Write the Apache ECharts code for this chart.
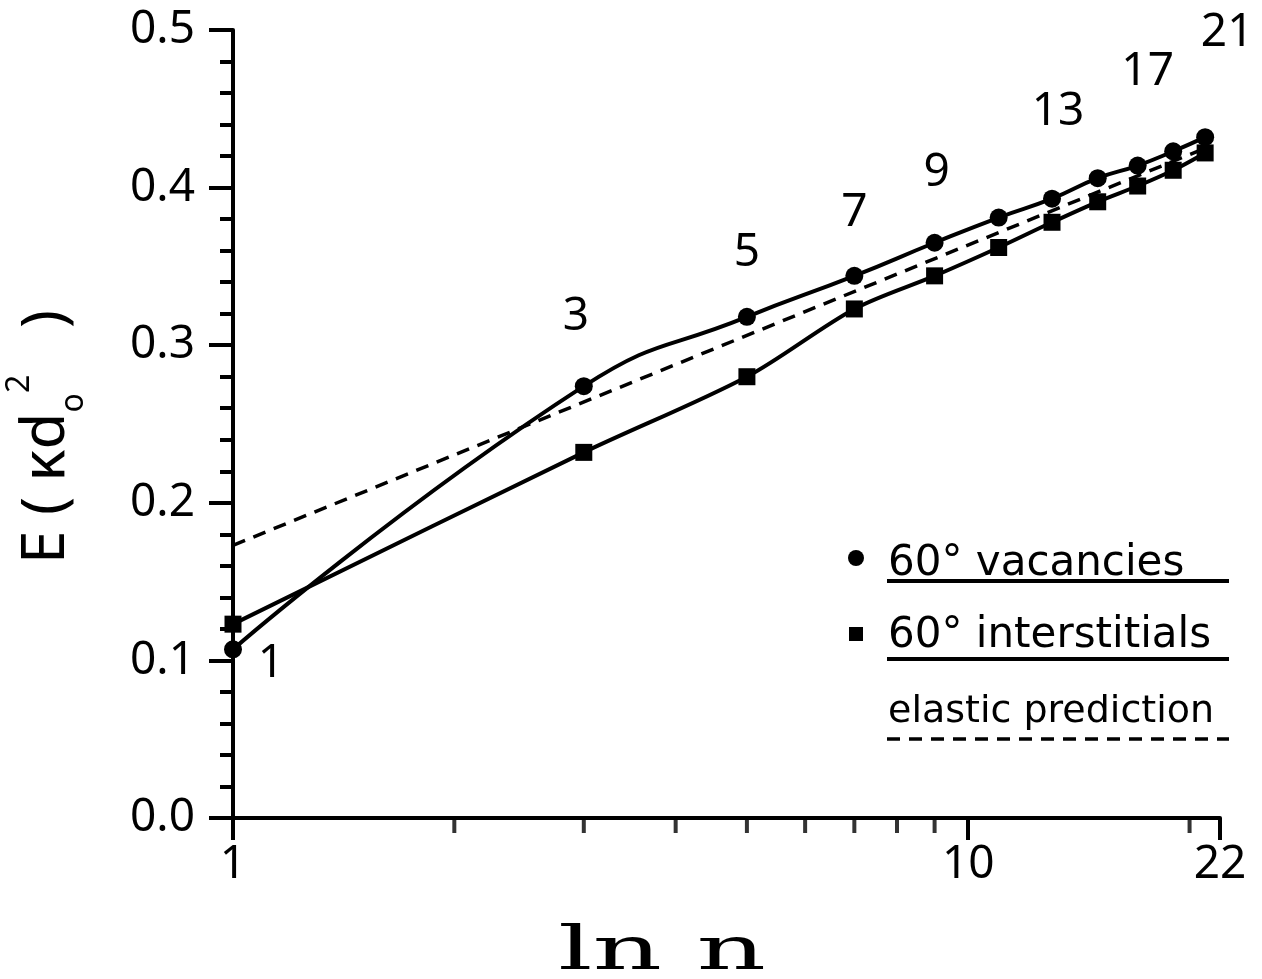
<!DOCTYPE html>
<html>
<head>
<meta charset="utf-8">
<script src="https://cdn.jsdelivr.net/npm/echarts@6.0.0/dist/echarts.min.js"></script>
<style>
  html, body { margin: 0; padding: 0; background: #fff; }
  #chart { width: 1262px; height: 979px; }
</style>
</head>
<body>
<div id="chart"></div>
<script>
// cluster size n (odd values) and formation energy E in units of kappa*d0^2
const nValues = [1, 3, 5, 7, 9, 11, 13, 15, 17, 19, 21];
const vacancies = [0.107, 0.274, 0.318, 0.344, 0.365, 0.381, 0.393, 0.406, 0.414, 0.423, 0.432];
const interstitials = [0.123, 0.232, 0.280, 0.323, 0.344, 0.362, 0.378, 0.391, 0.401, 0.411, 0.422];
// elastic prediction: straight line in ln n, read at its two ends
const elasticN = [1, 21];
const elastic = [0.173, 0.425];
// which points carry an n label
const labelledN = [1, 3, 5, 7, 9, 13, 17, 21];
// minor ticks on the log axis
const minorTickN = [2, 3, 4, 5, 6, 7, 8, 9, 20];

// label placement (pixels, relative to the vacancy marker)
const labelOffset = {
  1: [38, 15], 3: [-8, -69], 5: [0, -64], 7: [0, -63],
  9: [2, -70], 13: [6, -87], 17: [10, -94], 21: [22, -104]
};

const numFont = 'Noto Sans';
const textFont = 'DejaVu Sans';

const vacData = nValues.map(function (n, i) {
  const item = { value: [n, vacancies[i]] };
  if (labelledN.indexOf(n) >= 0) {
    item.label = {
      show: true,
      position: 'inside',
      offset: labelOffset[n],
      formatter: String(n),
      color: '#000',
      fontFamily: numFont,
      fontSize: 46
    };
  }
  return item;
});
const intData = nValues.map(function (n, i) { return [n, interstitials[i]]; });
const elasticData = elasticN.map(function (n, i) { return [n, elastic[i]]; });
const minorTickData = minorTickN.map(function (n) { return [n, 0]; });

const chart = echarts.init(document.getElementById('chart'));
chart.setOption({
  backgroundColor: '#fff',
  animation: false,
  grid: { left: 233, right: 42, top: 30, bottom: 161, containLabel: false },
  xAxis: {
    type: 'log',
    logBase: 10,
    min: 1,
    max: 22,
    axisLine: { show: true, lineStyle: { color: '#000', width: 4 } },
    axisTick: { show: true, length: 22, lineStyle: { color: '#000', width: 4 } },
    axisLabel: { color: '#000', fontFamily: numFont, fontSize: 46, margin: 24 },
    splitLine: { show: false }
  },
  yAxis: {
    type: 'value',
    min: 0,
    max: 0.5,
    interval: 0.1,
    axisLine: { show: true, lineStyle: { color: '#000', width: 4 } },
    axisTick: { show: true, length: 24, lineStyle: { color: '#000', width: 4 } },
    minorTick: { show: true, splitNumber: 5, length: 13, lineStyle: { color: '#000', width: 4 } },
    axisLabel: {
      color: '#000', fontFamily: numFont, fontSize: 46, margin: 38,
      formatter: function (v) { return v.toFixed(1); }
    },
    splitLine: { show: false },
    minorSplitLine: { show: false }
  },
  series: [
    {
      name: 'elastic prediction',
      type: 'line',
      data: elasticData,
      showSymbol: false,
      symbol: 'none',
      clip: false,
      lineStyle: { color: '#000', width: 3.5, type: [13, 9] },
      z: 2
    },
    {
      name: '60° interstitials',
      type: 'line',
      data: intData,
      smooth: 0.3,
      symbol: 'rect',
      symbolSize: 17,
      clip: false,
      itemStyle: { color: '#000' },
      lineStyle: { color: '#000', width: 4 },
      z: 3
    },
    {
      name: '60° vacancies',
      type: 'line',
      data: vacData,
      smooth: 0.5,
      symbol: 'circle',
      symbolSize: 18,
      clip: false,
      itemStyle: { color: '#000' },
      lineStyle: { color: '#000', width: 4 },
      z: 4
    },
    {
      // minor ticks of the log axis at 2..9 and 20
      name: 'minor ticks',
      type: 'scatter',
      data: minorTickData,
      symbol: 'rect',
      symbolSize: [4, 14],
      symbolOffset: [0, 8],
      clip: false,
      silent: true,
      itemStyle: { color: '#000' },
      z: 1
    }
  ],
  graphic: [
    // legend
    { type: 'circle', shape: { cx: 856, cy: 558, r: 8 }, style: { fill: '#000' } },
    { type: 'text', x: 888, y: 564, style: { text: '60° vacancies', font: '42px "' + textFont + '"', fill: '#000', verticalAlign: 'middle' } },
    { type: 'line', shape: { x1: 887, y1: 581, x2: 1229, y2: 581 }, style: { stroke: '#000', lineWidth: 4 } },
    { type: 'rect', shape: { x: 849, y: 627, width: 14, height: 14 }, style: { fill: '#000' } },
    { type: 'text', x: 888, y: 636, style: { text: '60° interstitials', font: '42px "' + textFont + '"', fill: '#000', verticalAlign: 'middle' } },
    { type: 'line', shape: { x1: 887, y1: 659, x2: 1229, y2: 659 }, style: { stroke: '#000', lineWidth: 4 } },
    { type: 'text', x: 888, y: 712, style: { text: 'elastic prediction', font: '38px "' + textFont + '"', fill: '#000', verticalAlign: 'middle' } },
    { type: 'line', shape: { x1: 887, y1: 739, x2: 1229, y2: 739 }, style: { stroke: '#000', lineWidth: 3.5, lineDash: [13, 9] } },
    // axis titles
    {
      type: 'text', x: 662, y: 953, scaleX: 1.8,
      style: { text: 'ln n', font: '60px "DejaVu Serif"', fill: '#000', align: 'center', verticalAlign: 'middle' }
    },
    {
      type: 'text', x: 47, y: 437, rotation: Math.PI / 2,
      style: {
        text: '{m|E ( κd}{sub|o}{sup|2}{m|   )}',
        fill: '#000',
        align: 'center',
        verticalAlign: 'middle',
        rich: {
          m: { fontFamily: numFont, fontSize: 60, lineHeight: 86, fill: '#000' },
          sub: { fontFamily: numFont, fontSize: 32, lineHeight: 44, verticalAlign: 'bottom', fill: '#000' },
          sup: { fontFamily: numFont, fontSize: 32, lineHeight: 28, verticalAlign: 'top', fill: '#000' }
        }
      }
    }
  ]
});
</script>
</body>
</html>
